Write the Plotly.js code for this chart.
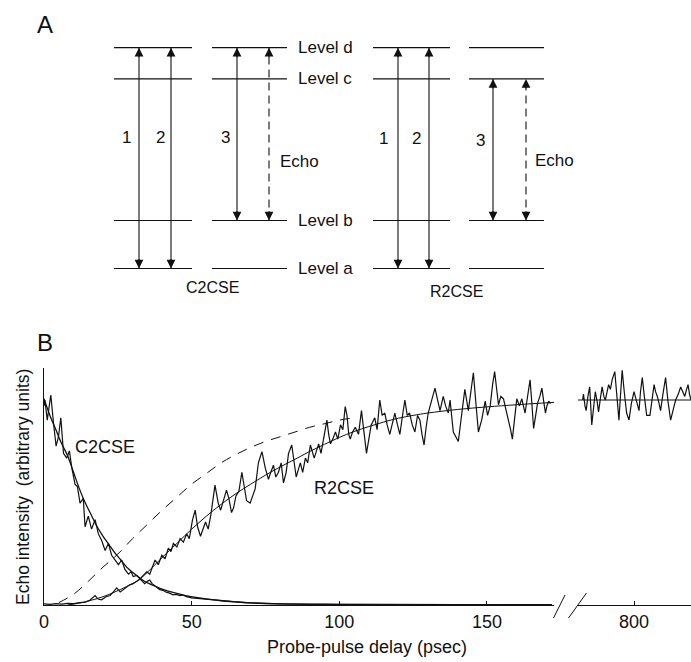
<!DOCTYPE html>
<html>
<head>
<meta charset="utf-8">
<script src="https://cdn.plot.ly/plotly-3.0.1.min.js"></script>
<style>
  html, body { margin: 0; padding: 0; background: #ffffff; }
  #chart { width: 691px; height: 662px; }
</style>
</head>
<body>
<div id="chart"></div>
<script>
// ---------------- Panel B data ----------------
// C2CSE measured echo (delay in psec, intensity in arbitrary units)
const c2cseDelay = [0, 0.3, 1.1, 2.3, 3.2, 4.1, 4.9, 5.7, 6.6, 7.7, 8.6, 9.4, 10.5, 11.3, 12.2, 13.3, 13.9, 15, 16.1, 17.3, 18.4, 19.6, 20.7, 21.8, 22.9, 24, 25.2, 26.3, 27.4, 28.6, 29.5, 30.2, 31.4, 32.5, 33.3, 34.1, 35, 35.8, 36.6, 37.5, 38.4, 39.2, 40.3, 41.4, 42.5, 43.7, 44.8, 46, 47, 48.2, 50, 51.7, 54, 57, 60, 64, 68, 72, 76, 80, 90, 100, 110, 120, 140, 172];
const c2cseSignal = [0.84, 0.865, 0.78, 0.886, 0.77, 0.67, 0.71, 0.79, 0.64, 0.62, 0.65, 0.58, 0.51, 0.50, 0.43, 0.45, 0.33, 0.375, 0.32, 0.36, 0.30, 0.27, 0.23, 0.26, 0.21, 0.19, 0.17, 0.19, 0.15, 0.13, 0.14, 0.12, 0.125, 0.11, 0.10, 0.09, 0.10, 0.105, 0.09, 0.082, 0.075, 0.065, 0.062, 0.054, 0.05, 0.043, 0.045, 0.04, 0.042, 0.035, 0.03, 0.028, 0.024, 0.02, 0.017, 0.012, 0.010, 0.008, 0.006, 0.005, 0.004, 0.003, 0.003, 0.002, 0.002, 0.002];
// C2CSE fitted curve
const c2cseFitDelay = [0, 2, 4, 6, 8, 10, 12, 14, 16, 18, 20, 22, 24, 26, 28, 30, 32, 34, 36, 38, 40, 44, 48, 52, 56, 60, 65, 70, 80, 90, 100, 110, 120];
const c2cseFitSignal = [0.87, 0.80, 0.74, 0.68, 0.63, 0.56, 0.49, 0.43, 0.38, 0.33, 0.29, 0.255, 0.22, 0.19, 0.16, 0.138, 0.118, 0.10, 0.088, 0.077, 0.067, 0.052, 0.04, 0.031, 0.024, 0.018, 0.013, 0.009, 0.005, 0.003, 0.002, 0.001, 0.0];

// R2CSE measured echo, short-delay segment
const r2cseDelay = [0, 2, 4, 6, 8, 10, 12.2, 14, 15.5, 17.3, 18.3, 19.5, 21, 22.4, 23.5, 24.6, 25.8, 26.9, 28, 29, 30.2, 31.4, 32.5, 33.6, 34.8, 35.8, 36.7, 37.6, 38.7, 39.9, 41, 42.1, 43, 43.8, 45, 46.1, 47.2, 48.3, 49.2, 50.3, 51.2, 52, 53, 53.8, 54.7, 55.6, 56.5, 57.9, 59, 59.8, 60.7, 61.8, 62.6, 63.5, 64.2, 65, 66, 67, 67.8, 68.6, 69.8, 70.6, 71.5, 72.6, 73.8, 74.9, 76, 76.8, 77.7, 78.5, 79.4, 80.3, 81.1, 82, 82.8, 83.9, 84.6, 85.4, 86.1, 86.8, 87.6, 88.5, 89.3, 90.2, 91.5, 92.2, 93, 93.8, 94.7, 95.8, 96.4, 97, 97.8, 98.7, 99.5, 100.4, 101.2, 102, 102.6, 103.2, 103.7, 104.5, 105.4, 106.5, 107.5, 108.3, 109.2, 110, 110.8, 112, 112.8, 113.7, 114.5, 115.4, 116.2, 117.1, 118, 118.8, 119.7, 120.5, 121.3, 122.2, 123, 123.8, 124.7, 125.6, 126.5, 127.3, 128, 128.7, 129.4, 130.1, 131.2, 132.4, 133.2, 134.1, 135.2, 136, 136.9, 137.5, 138.6, 139.5, 140.3, 141.5, 142.5, 143.7, 144.5, 145.4, 146.2, 147.1, 148.2, 149.4, 150.2, 151.1, 151.9, 152.6, 153.2, 153.9, 154.7, 155.6, 156.5, 157.3, 158, 158.6, 159.3, 160.1, 161, 161.8, 162.9, 163.8, 164.6, 165.2, 165.8, 166.5, 167.1, 167.9, 168.6, 169.2, 169.8, 170.3, 170.9, 171.5];
const r2cseSignal = [0.005, 0.003, 0.006, 0.004, 0.007, 0.006, 0.01, 0.012, 0.02, 0.04, 0.025, 0.022, 0.035, 0.04, 0.055, 0.072, 0.055, 0.065, 0.075, 0.085, 0.09, 0.10, 0.11, 0.125, 0.14, 0.13, 0.165, 0.19, 0.17, 0.21, 0.195, 0.24, 0.225, 0.26, 0.245, 0.28, 0.265, 0.30, 0.28, 0.36, 0.40, 0.33, 0.29, 0.32, 0.35, 0.32, 0.38, 0.506, 0.43, 0.40, 0.44, 0.485, 0.45, 0.39, 0.41, 0.46, 0.48, 0.56, 0.50, 0.44, 0.43, 0.46, 0.49, 0.60, 0.647, 0.58, 0.53, 0.56, 0.59, 0.54, 0.56, 0.60, 0.515, 0.56, 0.64, 0.675, 0.60, 0.54, 0.57, 0.60, 0.56, 0.62, 0.60, 0.675, 0.62, 0.65, 0.68, 0.64, 0.70, 0.78, 0.72, 0.68, 0.70, 0.73, 0.70, 0.76, 0.74, 0.837, 0.80, 0.72, 0.70, 0.73, 0.75, 0.72, 0.82, 0.74, 0.64, 0.70, 0.76, 0.79, 0.74, 0.865, 0.80, 0.81, 0.76, 0.72, 0.77, 0.81, 0.76, 0.72, 0.79, 0.865, 0.80, 0.81, 0.76, 0.73, 0.80, 0.78, 0.72, 0.675, 0.75, 0.81, 0.86, 0.915, 0.87, 0.82, 0.88, 0.84, 0.81, 0.865, 0.73, 0.71, 0.69, 0.81, 0.91, 0.82, 0.90, 0.98, 0.86, 0.73, 0.78, 0.86, 0.80, 0.84, 0.93, 0.985, 0.92, 0.845, 0.88, 0.87, 0.82, 0.78, 0.74, 0.70, 0.78, 0.87, 0.84, 0.87, 0.81, 0.89, 0.95, 0.85, 0.745, 0.80, 0.85, 0.88, 0.915, 0.86, 0.81, 0.84, 0.86, 0.85];
// R2CSE fitted curve
const r2cseFitDelay = [8, 12, 16, 20, 24, 28, 32, 36, 40, 45, 50, 55, 60, 65, 70, 75, 80, 85, 90, 95, 100, 105, 110, 115, 120, 125, 130, 140, 150, 160, 172.7];
const r2cseFitSignal = [0.0, 0.008, 0.02, 0.035, 0.055, 0.078, 0.105, 0.15, 0.20, 0.26, 0.32, 0.375, 0.425, 0.47, 0.51, 0.548, 0.583, 0.615, 0.648, 0.678, 0.707, 0.732, 0.753, 0.772, 0.788, 0.80, 0.81, 0.825, 0.836, 0.845, 0.855];
// dashed comparison curve
const dashedDelay = [5, 10, 15, 20, 25, 30, 35, 40, 45, 50, 55, 60, 65, 70, 75, 80, 85, 90, 95, 100, 105];
const dashedSignal = [0.01, 0.045, 0.10, 0.16, 0.215, 0.28, 0.34, 0.40, 0.455, 0.51, 0.555, 0.60, 0.635, 0.665, 0.69, 0.71, 0.73, 0.75, 0.765, 0.78, 0.79];

// R2CSE long-delay segment (after the axis break)
const r2cseLongDelay = [782.6, 782.9, 783.4, 783.8, 784.4, 785, 785.7, 786.3, 786.9, 787.5, 788, 788.6, 789.2, 789.8, 790.3, 790.9, 791.4, 792, 792.6, 793.5, 794.2, 794.9, 795.4, 796, 796.7, 797.5, 798.3, 799.1, 800, 800.8, 801.7, 802.2, 802.8, 803.5, 804.3, 805.4, 806.1, 806.8, 807.3, 807.9, 808.5, 809, 809.8, 810.7, 811.5, 812.4, 813.2, 814.1, 815, 815.8, 816.5, 817.2, 817.8, 818.3, 818.8, 819.3];
const r2cseLongSignal = [0.865, 0.89, 0.84, 0.82, 0.88, 0.92, 0.76, 0.84, 0.90, 0.86, 0.815, 0.87, 0.92, 0.88, 0.865, 0.90, 0.93, 0.91, 0.95, 0.985, 0.88, 0.78, 0.88, 0.99, 0.90, 0.81, 0.78, 0.85, 0.90, 0.86, 0.82, 0.90, 0.96, 0.88, 0.80, 0.80, 0.87, 0.93, 0.90, 0.88, 0.85, 0.82, 0.89, 0.96, 0.86, 0.78, 0.82, 0.865, 0.89, 0.92, 0.90, 0.88, 0.91, 0.93, 0.89, 0.865];
const r2cseLongFitDelay = [781, 819.3];
const r2cseLongFitSignal = [0.865, 0.865];

const xTicksShort = [0, 50, 100, 150];
const xTicksLong = [800];

// ---------------- Panel A data (energy-level scheme) ----------------
const levelNames = ['Level a', 'Level b', 'Level c', 'Level d'];
const levelEnergy = [0, 1, 3.95, 4.6];
const schemeNames = ['C2CSE', 'R2CSE'];
// transitions: pulse label, scheme, lower level index, upper level index, echo?
const transLabel  = ['1', '2', '3', 'Echo', '1', '2', '3', 'Echo'];
const transScheme = [0, 0, 0, 0, 1, 1, 1, 1];
const transLower  = [0, 0, 1, 1, 0, 0, 1, 1];
const transUpper  = [3, 3, 3, 3, 3, 3, 2, 2];
const transEcho   = [false, false, false, true, false, false, false, true];

// ---------------- layout geometry (pixels) ----------------
const W = 691, H = 662;
const px = x => x / W;
const py = y => 1 - y / H;
const INK = '#111111';
const FONT = 'Liberation Sans, Arial, Helvetica, sans-serif';

// panel A geometry
const columnSpans = [[114, 192], [212, 287], [373, 450], [469, 544]];
const transX = [139, 171, 237, 269, 398, 429, 493, 526];
const transLabelPos = [[126, 137], [160, 137], [225, 137], [278, 162], [383, 139], [417, 139], [480, 140], [533, 160]];
const schemeLabelPos = [[212, 287], [456, 291]];
// y2 axis maps energy -> pixel: y = 268.5 - 48 * E
const E0px = 268.5, Epx = 48;

const traces = [];

// Panel B traces
traces.push({x: c2cseDelay, y: c2cseSignal, type: 'scatter', mode: 'lines', line: {color: INK, width: 1.2}, xaxis: 'x', yaxis: 'y'});
traces.push({x: c2cseFitDelay, y: c2cseFitSignal, type: 'scatter', mode: 'lines', line: {color: INK, width: 1.3, shape: 'spline'}, xaxis: 'x', yaxis: 'y'});
traces.push({x: dashedDelay, y: dashedSignal, type: 'scatter', mode: 'lines', line: {color: INK, width: 1, dash: '10px,8px', shape: 'spline'}, xaxis: 'x', yaxis: 'y'});
traces.push({x: r2cseDelay, y: r2cseSignal, type: 'scatter', mode: 'lines', line: {color: INK, width: 1.2}, xaxis: 'x', yaxis: 'y'});
traces.push({x: r2cseFitDelay, y: r2cseFitSignal, type: 'scatter', mode: 'lines', line: {color: INK, width: 1, shape: 'spline'}, xaxis: 'x', yaxis: 'y'});
traces.push({x: r2cseLongDelay, y: r2cseLongSignal, type: 'scatter', mode: 'lines', line: {color: INK, width: 1.2}, xaxis: 'x3', yaxis: 'y'});
traces.push({x: r2cseLongFitDelay, y: r2cseLongFitSignal, type: 'scatter', mode: 'lines', line: {color: INK, width: 1}, xaxis: 'x3', yaxis: 'y'});

// Panel A: level lines
const lvX = [], lvY = [];
columnSpans.forEach(span => {
  levelEnergy.forEach(e => { lvX.push(span[0], span[1], null); lvY.push(e, e, null); });
});
traces.push({x: lvX, y: lvY, type: 'scatter', mode: 'lines', line: {color: INK, width: 1.2}, xaxis: 'x2', yaxis: 'y2'});

// Panel A: transition shafts
const annotations = [];
transX.forEach((xv, i) => {
  const e1 = levelEnergy[transLower[i]], e2 = levelEnergy[transUpper[i]];
  traces.push({x: [xv, xv], y: [e1, e2], type: 'scatter', mode: 'lines',
    line: {color: INK, width: 1.1, dash: transEcho[i] ? '8px,5px' : 'solid'}, xaxis: 'x2', yaxis: 'y2'});
  [[e2, 11], [e1, -11]].forEach(h => {
    annotations.push({x: xv, y: h[0], xref: 'x2', yref: 'y2', ax: 0, ay: h[1], axref: 'pixel', ayref: 'pixel',
      text: '', showarrow: true, arrowhead: 2, arrowsize: 1.6, arrowwidth: 1.1, arrowcolor: INK, standoff: 0, startstandoff: 0});
  });
  const p = transLabelPos[i];
  annotations.push({x: px(p[0]), y: py(p[1]), xref: 'paper', yref: 'paper', text: transLabel[i], showarrow: false,
    xanchor: transEcho[i] ? 'left' : 'center', yanchor: 'middle', font: {family: FONT, size: 17, color: INK}});
});
levelNames.forEach((n, i) => {
  annotations.push({x: px(296), y: levelEnergy[i], xref: 'paper', yref: 'y2', text: n, showarrow: false,
    xanchor: 'left', yanchor: 'middle', font: {family: FONT, size: 17, color: INK}});
});
schemeNames.forEach((n, i) => {
  const p = schemeLabelPos[i];
  annotations.push({x: px(p[0]), y: py(p[1]), xref: 'paper', yref: 'paper', text: n, showarrow: false,
    xanchor: 'center', yanchor: 'middle', font: {family: FONT, size: 16, color: INK}});
});
// panel letters
annotations.push({x: px(45), y: py(25), xref: 'paper', yref: 'paper', text: 'A', showarrow: false, xanchor: 'center', yanchor: 'middle', font: {family: FONT, size: 24, color: INK}});
annotations.push({x: px(45), y: py(342), xref: 'paper', yref: 'paper', text: 'B', showarrow: false, xanchor: 'center', yanchor: 'middle', font: {family: FONT, size: 24, color: INK}});
// panel B curve labels
annotations.push({x: 20.7, y: 0.667, xref: 'x', yref: 'y', text: 'C2CSE', showarrow: false, xanchor: 'center', yanchor: 'middle', font: {family: FONT, size: 18, color: INK}});
annotations.push({x: 101.6, y: 0.494, xref: 'x', yref: 'y', text: 'R2CSE', showarrow: false, xanchor: 'center', yanchor: 'middle', font: {family: FONT, size: 18, color: INK}});
// axis titles
annotations.push({x: px(367), y: py(647), xref: 'paper', yref: 'paper', text: 'Probe-pulse delay (psec)', showarrow: false, xanchor: 'center', yanchor: 'middle', font: {family: FONT, size: 18, color: INK}});
annotations.push({x: px(23), y: py(487), xref: 'paper', yref: 'paper', text: 'Echo intensity  (arbitrary units)', textangle: -90, showarrow: false, xanchor: 'center', yanchor: 'middle', font: {family: FONT, size: 17.5, color: INK}});

// axis-break marks
const shapes = [
  {type: 'line', xref: 'paper', yref: 'paper', x0: px(553.5), y0: py(618), x1: px(565), y1: py(595), line: {color: INK, width: 1}},
  {type: 'line', xref: 'paper', yref: 'paper', x0: px(568.5), y0: py(618), x1: px(586.5), y1: py(593), line: {color: INK, width: 1}}
];

const axisCommon = {showgrid: false, zeroline: false, showline: true, linecolor: INK, linewidth: 1,
  ticks: 'inside', ticklen: 4, tickcolor: INK, tickfont: {family: FONT, size: 18, color: INK}, fixedrange: true};

const layout = {
  width: W, height: H,
  margin: {l: 0, r: 0, t: 0, b: 0},
  paper_bgcolor: '#ffffff', plot_bgcolor: 'rgba(0,0,0,0)',
  showlegend: false,
  xaxis: Object.assign({}, axisCommon, {domain: [px(44), px(554)], range: [0, 172.7], tickvals: xTicksShort, anchor: 'y'}),
  xaxis3: Object.assign({}, axisCommon, {domain: [px(578), 1], range: [781.04, 819.3], tickvals: xTicksLong, anchor: 'y'}),
  yaxis: {domain: [py(605), py(368)], range: [0, 1], showgrid: false, zeroline: false, showline: true, linecolor: INK, linewidth: 1,
    ticks: '', showticklabels: false, anchor: 'x', fixedrange: true},
  xaxis2: {domain: [0, 1], range: [0, W], visible: false, anchor: 'y2', fixedrange: true},
  yaxis2: {domain: [0, 1], range: [(E0px - H) / Epx, E0px / Epx], visible: false, anchor: 'x2', fixedrange: true},
  annotations: annotations,
  shapes: shapes
};

Plotly.newPlot('chart', traces, layout, {staticPlot: true, displayModeBar: false});
</script>
</body>
</html>
